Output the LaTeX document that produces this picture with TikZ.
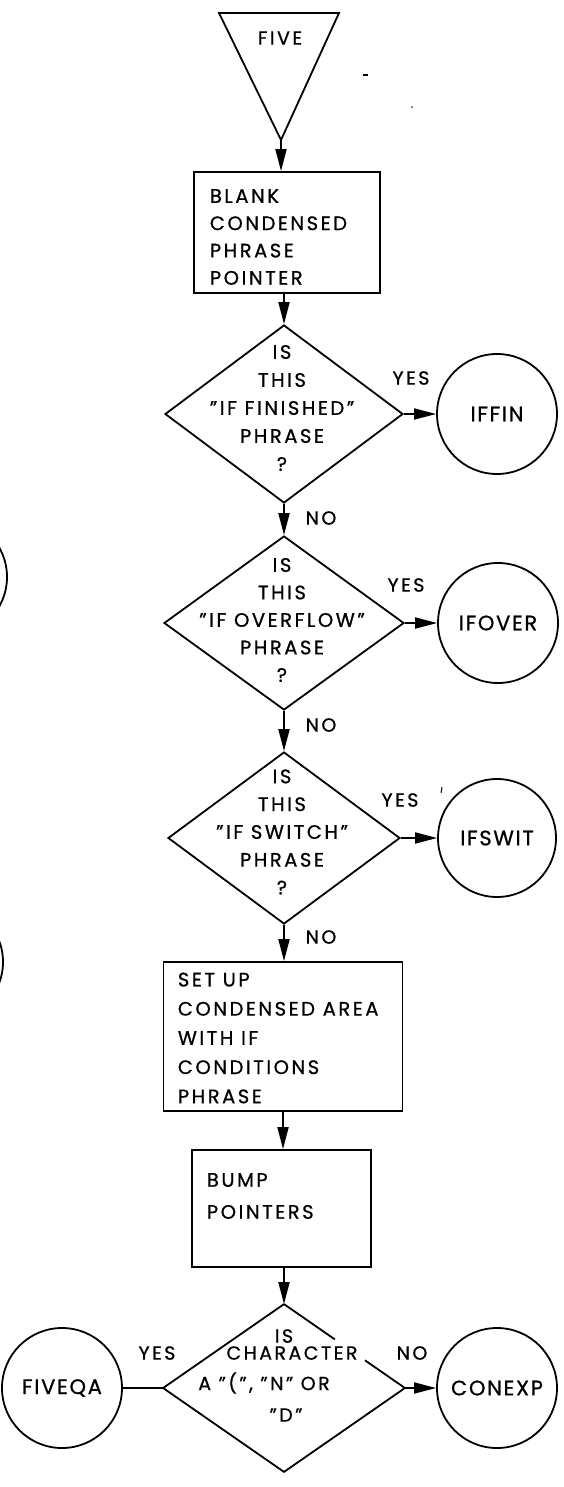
\documentclass[tikz,border=0pt]{standalone}
\usepackage{fontspec}
\setmainfont{Poppins}[LetterSpace=13,FakeBold=0.8]
\newfontfamily\circfont{Poppins}[LetterSpace=8,FakeBold=0.8]
\usetikzlibrary{shapes.geometric,arrows.meta,calc}
\begin{document}
\begin{tikzpicture}[x=1pt,y=-1pt,line width=1.8pt,
  arr/.style={-{Triangle[length=22pt,width=11pt]}},
  dia/.style={draw,diamond,inner sep=0pt,minimum width=#1,minimum height=172pt},
  boxx/.style={draw,rectangle,inner sep=0pt},
  circ/.style={draw,circle,inner sep=0pt,minimum size=120pt,font=\circfont\fontsize{21}{22}\selectfont},
  lbl/.style={inner sep=0pt,font=\fontsize{19}{22}\selectfont},
  mtxt/.style={inner sep=0pt,align=center,font=\fontsize{19.5}{#1}\selectfont},
  ltxt/.style={inner sep=0pt,align=left,anchor=west,font=\fontsize{19.5}{#1}\selectfont}]
\useasboundingbox (0,0) rectangle (564,1487);
\fill[white] (0,0) rectangle (564,1487);
% partial circles cut by left edge
\begin{scope}
\clip (0,0) rectangle (564,1487);
\draw (-53,577) circle (60);
\draw (-57,962) circle (60);
\end{scope}
% start triangle
\coordinate (tl) at (219,13);
\coordinate (tr) at (339,13);
\coordinate (apex) at (281,140);
\draw (tl) -- (tr) -- (apex) -- cycle;
\node[lbl] (five) at (280,38) {FIVE};
% box 1
\node[boxx,minimum width=186pt,minimum height=121pt] (b1) at (287,232.5) {};
\node[ltxt=27.3] (b1t) at (209,237) {BLANK\\CONDENSED\\PHRASE\\POINTER};
% diamond 1
\node[dia=238pt,minimum height=178pt] (d1) at (284,414) {};
\node[mtxt=28] (d1t) at (282,408) {IS\\THIS\\"IF FINISHED"\\PHRASE\\?};
\node[circ] (c1) at (497,414) {IFFIN};
% diamond 2
\node[dia=240pt,minimum height=174pt] (d2) at (284,623) {};
\node[mtxt=27.5] (d2t) at (282,620) {IS\\THIS\\"IF OVERFLOW"\\PHRASE\\?};
\node[circ] (c2) at (498,623) {IFOVER};
% diamond 3
\node[dia=232pt,minimum height=172pt] (d3) at (284,838) {};
\node[mtxt=27.8] (d3t) at (282,832) {IS\\THIS\\"IF SWITCH"\\PHRASE\\?};
\node[circ,minimum size=118pt] (c3) at (497,838) {IFSWIT};
% box 2
\node[boxx,minimum width=239pt,minimum height=149pt] (b2) at (283,1036.5) {};
\node[ltxt=29.2] (b2t) at (177,1038) {SET UP\\CONDENSED AREA\\WITH IF\\CONDITIONS\\PHRASE};
% box 3
\node[boxx,minimum width=179pt,minimum height=117pt] (b3) at (281.5,1208.5) {};
\node[ltxt=32] (b3t) at (206,1196) {BUMP\\POINTERS};
% diamond 4 (outline drawn with a gap at CHARACTER)
\node[diamond,inner sep=0pt,minimum width=240pt,minimum height=166pt] (d4) at (284,1388) {};
\draw (d4.north) -- (d4.west) -- (d4.south) -- (d4.east) -- ($(d4.east)!0.33!(d4.north)$);
\draw ($(d4.east)!0.58!(d4.north)$) -- (d4.north);
\node[lbl] (d4a) at (284,1336) {IS};
\node[lbl] (d4b) at (292,1353) {CHARACTER};
\node[lbl] (d4c) at (264,1383) {A "(", "N" OR};
\node[lbl] (d4d) at (286,1415) {"D"};
\node[circ] (c5) at (62,1388) {FIVEQA};
\node[circ] (c4) at (497,1388) {CONEXP};
% labels
\node[lbl] (y1) at (411,378) {YES};
\node[lbl] (y2) at (406,585) {YES};
\node[lbl] (y3) at (400,800) {YES};
\node[lbl] (y4) at (157,1353) {YES};
\node[lbl] (n1) at (321,518) {NO};
\node[lbl] (n2) at (321,725) {NO};
\node[lbl] (n3) at (321,937) {NO};
\node[lbl] (n4) at (412,1353) {NO};
% connectors
\draw[arr] (apex) -- (apex |- b1.north);
\draw[arr] (d1.north |- b1.south) -- (d1.north);
\draw[arr] (d1.south) -- (d2.north);
\draw[arr] (d2.south) -- (d3.north);
\draw[arr] (d3.south) -- (d3.south |- b2.north);
\draw[arr] (b2.south) -- (b2.south |- b3.north);
\draw[arr] (d4.north |- b3.south) -- (d4.north);
\draw[arr] (d1.east) -- (c1.west);
\draw[arr] (d2.east) -- (c2.west);
\draw[arr] (d3.east) -- (c3.west);
\draw[arr] (d4.east) -- (c4.west);
\draw (d4.west) -- (c5.east);
% stray marks of the scan
\draw[line width=1.8pt] (363,75) -- (368,75);
\fill (412,107) circle (0.8);
\draw[line width=1pt] (442,787) -- (441,793);
\end{tikzpicture}
\end{document}
